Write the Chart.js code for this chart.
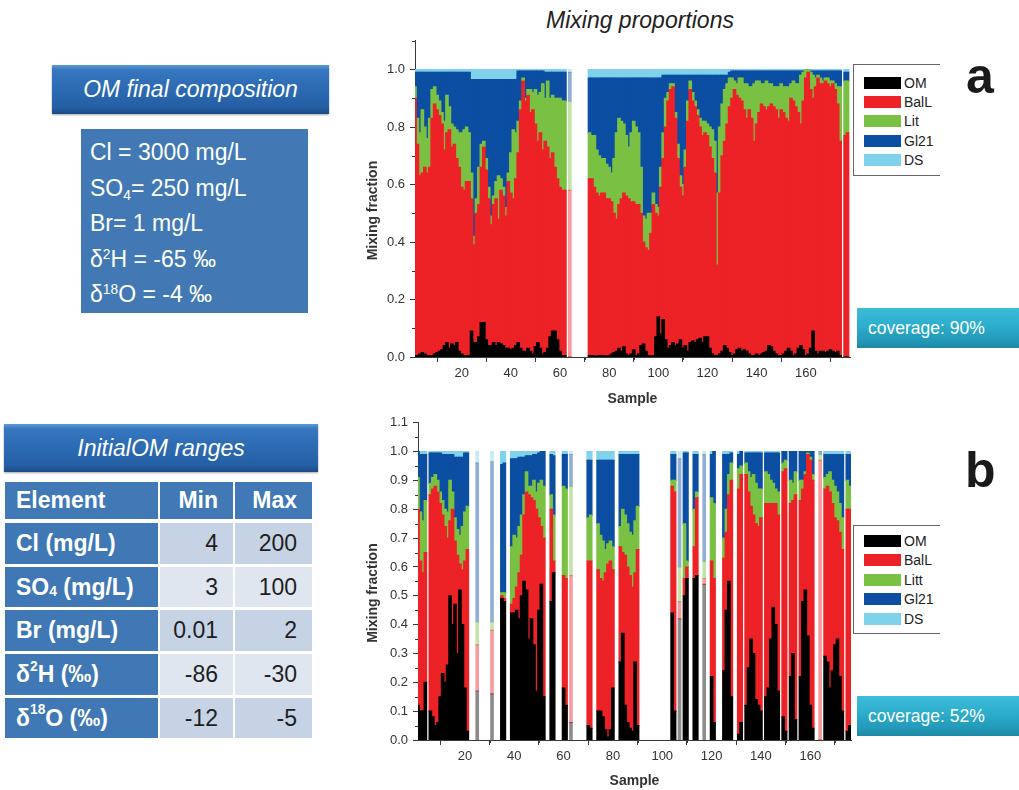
<!DOCTYPE html>
<html>
<head>
<meta charset="utf-8">
<title>Mixing proportions</title>
<script src="https://cdn.jsdelivr.net/npm/chart.js@4.4.0/dist/chart.umd.min.js"></script>
<style>
  html, body { margin: 0; padding: 0; background: #fff; }
  body { width: 1019px; height: 790px; position: relative; overflow: hidden;
         font-family: "Liberation Sans", Arial, sans-serif; }
  canvas { position: absolute; }
  .title { position: absolute; left: 546px; top: 7px; font-size: 23px; font-style: italic; color: #222; white-space: nowrap; }
  .hdr { position: absolute; color: #fff; font-style: italic; font-size: 23px;
         display: flex; align-items: center; justify-content: center; white-space: nowrap;
         background: linear-gradient(to bottom, #5f9ad4 0%, #3677bf 10%, #2c6ab2 50%, #255fa5 86%, #1b4b86 100%);
         box-shadow: 0 1px 2px rgba(0,0,0,0.35); }
  .comp { position: absolute; background: #4279b5; color: #fff; font-size: 23px;
          box-sizing: border-box; padding: 6px 0 0 9px; line-height: 35.5px; white-space: nowrap; }
  sub, sup { font-size: 60%; line-height: 0; position: relative; vertical-align: baseline; }
  sub { top: 0.35em; }
  sup { top: -0.55em; }
  .tbl { position: absolute; left: 5px; top: 482px; display: grid;
         grid-template-columns: 153px 73px 77px; column-gap: 2px;
         grid-template-rows: 38px 41px 40px 41px 41px 40px; row-gap: 3px; }
  .tbl > div { display: flex; align-items: center; font-size: 23px; white-space: nowrap; box-sizing: border-box; }
  .th { background: #4079b5; color: #fff; font-weight: bold; }
  .tbl .hrow { margin-bottom: 1px; }
  .l { padding-left: 11px; }
  .r { justify-content: flex-end; padding-right: 15px; }
  .rh { background: #3f78b4; color: #fff; font-weight: bold; padding-left: 11px; }
  .v { color: #1e1e1e; justify-content: flex-end; padding-right: 15px; }
  .c1 { background: #c6d3e5; }
  .c2 { background: #dfe6f0; }
  .legend { position: absolute; border: 1px solid #666; border-right: none; background: #fff;
            box-sizing: border-box; }
  .legend .row { position: absolute; left: 10px; height: 12px; display: flex; align-items: center; }
  .legend .sw { width: 37px; height: 12px; margin-right: 3px; }
  .legend .tx { font-size: 14px; color: #222; line-height: 12px; }
  .cov { position: absolute; left: 857px; width: 162px; height: 40px; color: #fff; font-size: 17.5px;
         display: flex; align-items: center; box-sizing: border-box; padding-left: 11px;
         background: linear-gradient(to bottom, #3cbcd9 0%, #2cadcc 45%, #2399b8 80%, #1d88a4 100%); }
  .tag { position: absolute; font-size: 50px; font-weight: bold; color: #1a1a1a; line-height: 50px; }
</style>
</head>
<body>

<div class="title">Mixing proportions</div>

<div class="hdr" style="left:52px;top:65px;width:277px;height:49px;">OM final composition</div>
<div class="comp" style="left:81px;top:129px;width:227px;height:184px;">
  <div>Cl = 3000 mg/L</div>
  <div>SO<sub>4</sub>= 250 mg/L</div>
  <div>Br= 1 mg/L</div>
  <div>δ<sup>2</sup>H = -65 ‰</div>
  <div>δ<sup>18</sup>O = -4 ‰</div>
</div>

<div class="hdr" style="left:4px;top:424px;width:314px;height:48px;">InitialOM ranges</div>
<div class="tbl">
  <div class="th l hrow">Element</div><div class="th r hrow">Min</div><div class="th r hrow">Max</div>
  <div class="rh">Cl (mg/L)</div><div class="v c1">4</div><div class="v c1">200</div>
  <div class="rh">SO<sub>4</sub>&nbsp;(mg/L)</div><div class="v c2">3</div><div class="v c2">100</div>
  <div class="rh">Br (mg/L)</div><div class="v c1">0.01</div><div class="v c1">2</div>
  <div class="rh">δ<sup>2</sup>H (‰)</div><div class="v c2">-86</div><div class="v c2">-30</div>
  <div class="rh">δ<sup>18</sup>O (‰)</div><div class="v c1">-12</div><div class="v c1">-5</div>
</div>

<canvas id="chartA" width="500" height="384" style="left:355px;top:28px;"></canvas>
<canvas id="chartB" width="500" height="384" style="left:355px;top:410px;"></canvas>

<div class="legend" id="legendA" style="left:853px;top:64px;width:87px;height:112px;"></div>
<div class="legend" id="legendB" style="left:853px;top:525px;width:87px;height:109px;"></div>

<div class="cov" style="top:308px;">coverage: 90%</div>
<div class="cov" style="top:696px;">coverage: 52%</div>

<div class="tag" style="left:966px;top:51px;">a</div>
<div class="tag" style="left:965px;top:445px;">b</div>

<script>
// ---- Panel a: mixing fractions per sample (null = sample not resolved) ----
const OM_A = [
  0.005, 0.005, 0.01, 0.015, 0.01, 0.005, 0.005, 0.005, 0.01, 0.015,
  0.02, 0.025, 0.04, 0.05, 0.03, 0.045, 0.04, 0.05, 0.02, 0.01,
  0.005, 0.005, 0.005, 0.09, 0.05, 0.05, 0.07, 0.12, 0.12, 0.06,
  0.04, 0.04, 0.05, 0.04, 0.05, 0.045, 0.04, 0.03, 0.03, 0.025,
  0.03, 0.04, 0.05, 0.03, 0.02, 0.02, 0.03, 0.02, 0.01, 0.035,
  0.05, 0.03, 0.01, 0.015, 0.03, 0.07, 0.09, 0.09, 0.06, 0.02,
  0.005, 0.005, null, 0.0, null, null, null, null, null, null,
  null, 0.005, 0.005, 0.003, 0.003, 0.005, 0.005, 0.003, 0.003, 0.005,
  0.01, 0.015, 0.02, 0.03, 0.02, 0.035, 0.01, 0.005, 0.01, 0.025,
  0.005, 0.01, 0.04, 0.045, 0.02, 0.005, 0.003, 0.005, 0.07, 0.14,
  0.08, 0.13, 0.06, 0.03, 0.04, 0.05, 0.04, 0.045, 0.06, 0.03,
  0.04, 0.02, 0.05, 0.055, 0.05, 0.06, 0.065, 0.05, 0.07, 0.07,
  0.03, 0.01, 0.005, 0.005, 0.01, 0.02, 0.04, 0.03, 0.015, 0.005,
  0.01, 0.025, 0.03, 0.02, 0.025, 0.02, 0.01, 0.005, 0.005, 0.01,
  0.005, 0.01, 0.015, 0.02, 0.04, 0.035, 0.02, 0.01, 0.005, 0.005,
  0.01, 0.02, 0.03, 0.02, 0.005, 0.01, 0.03, 0.04, 0.025, 0.005,
  0.01, 0.03, 0.09, 0.02, 0.01, 0.02, 0.02, 0.015, 0.02, 0.025,
  0.02, 0.015, 0.02, 0.005, null, 0.0, 0.0, null
];
const BALL_A = [
  0.895, 0.735, 0.62, 0.625, 0.65, 0.635, 0.655, 0.825, 0.87, 0.845,
  0.82, 0.785, 0.68, 0.73, 0.76, 0.685, 0.70, 0.64, 0.64, 0.58,
  0.575, 0.605, 0.605, 0.46, 0.34, 0.45, 0.46, 0.54, 0.61, 0.59,
  0.51, 0.42, 0.48, 0.51, 0.43, 0.535, 0.52, 0.46, 0.58, 0.545,
  0.52, 0.58, 0.66, 0.83, 0.94, 0.87, 0.88, 0.83, 0.85, 0.775,
  0.70, 0.75, 0.71, 0.735, 0.70, 0.62, 0.62, 0.57, 0.56, 0.57,
  0.575, 0.575, null, 0.58, null, null, null, null, null, null,
  null, 0.615, 0.615, 0.587, 0.567, 0.555, 0.565, 0.567, 0.547, 0.545,
  0.53, 0.485, 0.46, 0.50, 0.53, 0.535, 0.55, 0.545, 0.53, 0.515,
  0.525, 0.52, 0.46, 0.355, 0.36, 0.365, 0.427, 0.525, 0.43, 0.35,
  0.51, 0.56, 0.74, 0.86, 0.89, 0.89, 0.79, 0.645, 0.53, 0.53,
  0.62, 0.80, 0.88, 0.835, 0.82, 0.78, 0.735, 0.72, 0.71, 0.70,
  0.70, 0.68, 0.635, 0.315, 0.56, 0.68, 0.71, 0.78, 0.855, 0.895,
  0.92, 0.885, 0.87, 0.87, 0.835, 0.81, 0.85, 0.825, 0.745, 0.80,
  0.845, 0.87, 0.855, 0.84, 0.83, 0.845, 0.85, 0.85, 0.825, 0.855,
  0.84, 0.81, 0.79, 0.88, 0.885, 0.86, 0.82, 0.77, 0.865, 0.965,
  0.98, 0.90, 0.81, 0.92, 0.96, 0.93, 0.93, 0.945, 0.93, 0.915,
  0.93, 0.915, 0.86, 0.745, null, 0.77, 0.78, null
];
const LIT_A = [
  0.04, 0.09, 0.15, 0.22, 0.14, 0.12, 0.17, 0.10, 0.06, 0.05,
  0.05, 0.04, 0.10, 0.13, 0.08, 0.08, 0.06, 0.10, 0.12, 0.19,
  0.21, 0.19, 0.17, 0.09, 0.03, 0.05, 0.13, 0.08, 0.02, 0.04,
  0.04, 0.03, 0.03, 0.06, 0.15, 0.04, 0.03, 0.03, 0.03, 0.14,
  0.24, 0.16, 0.11, 0.03, 0.01, 0.01, 0.02, 0.08, 0.06, 0.12,
  0.16, 0.14, 0.23, 0.15, 0.23, 0.21, 0.20, 0.24, 0.28, 0.31,
  0.31, 0.31, null, 0.31, null, null, null, null, null, null,
  null, 0.16, 0.15, 0.18, 0.15, 0.14, 0.12, 0.12, 0.12, 0.11,
  0.10, 0.19, 0.30, 0.30, 0.27, 0.24, 0.21, 0.18, 0.24, 0.28,
  0.27, 0.25, 0.16, 0.09, 0.10, 0.13, 0.07, 0.04, 0.03, 0.03,
  0.07, 0.09, 0.10, 0.03, 0.02, 0.01, 0.02, 0.05, 0.04, 0.04,
  0.06, 0.07, 0.03, 0.03, 0.02, 0.02, 0.03, 0.05, 0.04, 0.04,
  0.07, 0.10, 0.11, 0.25, 0.23, 0.18, 0.18, 0.14, 0.10, 0.07,
  0.03, 0.04, 0.07, 0.08, 0.09, 0.12, 0.08, 0.11, 0.20, 0.15,
  0.11, 0.07, 0.08, 0.10, 0.08, 0.07, 0.07, 0.08, 0.11, 0.09,
  0.09, 0.11, 0.12, 0.05, 0.07, 0.08, 0.10, 0.17, 0.10, 0.03,
  0.01, 0.06, 0.08, 0.03, 0.01, 0.02, 0.01, 0.01, 0.02, 0.02,
  0.01, 0.02, 0.06, 0.19, null, 0.19, 0.18, null
];
const GL21_A = [
  0.05, 0.16, 0.21, 0.13, 0.19, 0.23, 0.16, 0.06, 0.05, 0.08,
  0.10, 0.14, 0.17, 0.08, 0.12, 0.18, 0.19, 0.20, 0.21, 0.21,
  0.20, 0.19, 0.21, 0.325, 0.545, 0.415, 0.305, 0.225, 0.215, 0.275,
  0.375, 0.475, 0.405, 0.355, 0.335, 0.345, 0.375, 0.445, 0.325, 0.255,
  0.175, 0.185, 0.175, 0.105, 0.025, 0.095, 0.065, 0.065, 0.075, 0.065,
  0.085, 0.075, 0.045, 0.09, 0.03, 0.09, 0.08, 0.09, 0.09, 0.09,
  0.10, 0.10, null, 0.10, null, null, null, null, null, null,
  null, 0.19, 0.20, 0.20, 0.25, 0.27, 0.28, 0.28, 0.30, 0.31,
  0.33, 0.28, 0.19, 0.14, 0.15, 0.16, 0.20, 0.24, 0.19, 0.15,
  0.17, 0.19, 0.31, 0.48, 0.49, 0.47, 0.47, 0.40, 0.44, 0.45,
  0.31, 0.20, 0.08, 0.06, 0.03, 0.03, 0.13, 0.24, 0.35, 0.38,
  0.26, 0.09, 0.02, 0.06, 0.09, 0.12, 0.15, 0.16, 0.16, 0.17,
  0.18, 0.19, 0.23, 0.41, 0.18, 0.10, 0.05, 0.03, 0.02, 0.025,
  0.035, 0.045, 0.025, 0.025, 0.045, 0.045, 0.055, 0.055, 0.045, 0.035,
  0.035, 0.045, 0.045, 0.035, 0.045, 0.045, 0.055, 0.055, 0.055, 0.045,
  0.055, 0.055, 0.055, 0.045, 0.035, 0.045, 0.045, 0.015, 0.005, 0.0,
  0.0, 0.005, 0.015, 0.025, 0.015, 0.025, 0.035, 0.025, 0.025, 0.035,
  0.035, 0.045, 0.055, 0.055, null, 0.03, 0.03, null
];
const DS_A = [
  0.01, 0.01, 0.01, 0.01, 0.01, 0.01, 0.01, 0.01, 0.01, 0.01,
  0.01, 0.01, 0.01, 0.01, 0.01, 0.01, 0.01, 0.01, 0.01, 0.01,
  0.01, 0.01, 0.01, 0.035, 0.035, 0.035, 0.035, 0.035, 0.035, 0.035,
  0.035, 0.035, 0.035, 0.035, 0.035, 0.035, 0.035, 0.035, 0.035, 0.035,
  0.035, 0.035, 0.005, 0.005, 0.005, 0.005, 0.005, 0.005, 0.005, 0.005,
  0.005, 0.005, 0.005, 0.01, 0.01, 0.01, 0.01, 0.01, 0.01, 0.01,
  0.01, 0.01, null, 0.01, null, null, null, null, null, null,
  null, 0.03, 0.03, 0.03, 0.03, 0.03, 0.03, 0.03, 0.03, 0.03,
  0.03, 0.03, 0.03, 0.03, 0.03, 0.03, 0.03, 0.03, 0.03, 0.03,
  0.03, 0.03, 0.03, 0.03, 0.03, 0.03, 0.03, 0.03, 0.03, 0.03,
  0.03, 0.02, 0.02, 0.02, 0.02, 0.02, 0.02, 0.02, 0.02, 0.02,
  0.02, 0.02, 0.02, 0.02, 0.02, 0.02, 0.02, 0.02, 0.02, 0.02,
  0.02, 0.02, 0.02, 0.02, 0.02, 0.02, 0.02, 0.02, 0.01, 0.005,
  0.005, 0.005, 0.005, 0.005, 0.005, 0.005, 0.005, 0.005, 0.005, 0.005,
  0.005, 0.005, 0.005, 0.005, 0.005, 0.005, 0.005, 0.005, 0.005, 0.005,
  0.005, 0.005, 0.005, 0.005, 0.005, 0.005, 0.005, 0.005, 0.005, 0.0,
  0.0, 0.005, 0.005, 0.005, 0.005, 0.005, 0.005, 0.005, 0.005, 0.005,
  0.005, 0.005, 0.005, 0.005, null, 0.01, 0.01, null
];

// ---- Panel b: mixing fractions per sample (null = sample not resolved) ----
const OM_B = [
  0.12, 0.10, 0.10, 0.20, null, 0.10, 0.08, 0.05, 0.06, 0.15,
  0.23, 0.20, 0.26, 0.50, 0.40, 0.47, 0.30, 0.52, 0.40, 0.18,
  0.03, null, null, null, 0.17, null, null, null, null, null,
  0.16, null, null, null, 0.49, 0.48, null, null, 0.44, 0.44,
  0.45, 0.42, 0.50, 0.55, 0.52, 0.35, 0.42, 0.33, 0.17, 0.45,
  0.54, 0.15, null, null, 0.48, 0.58, null, null, null, 0.18,
  0.12, null, 0.06, null, null, null, null, null, null, 0.05,
  0.04, null, null, 0.10, 0.10, 0.08, 0.035, 0.01, 0.035, 0.18,
  null, null, 0.27, 0.37, 0.12, 0.06, 0.04, 0.03, 0.27, 0.05,
  null, null, null, null, null, null, null, null, null, null,
  null, null, null, 0.44, 0.10, null, 0.42, null, 0.50, 0.56,
  null, null, 0.56, 0.57, null, null, 0.54, null, null, 0.22,
  0.06, null, null, null, 0.24, 0.45, 0.55, 0.15, null, null,
  0.02, 0.06, null, 0.12, 0.25, 0.35, 0.30, 0.14, 0.12, 0.10,
  null, 0.15, 0.18, 0.35, 0.46, 0.40, 0.17, null, 0.08, 0.03,
  null, 0.22, 0.30, 0.07, null, 0.22, 0.48, 0.52, 0.36, 0.12,
  0.04, null, null, 0.0, null, 0.29, 0.27, 0.18, 0.24, 0.33,
  0.35, 0.22, 0.10, null, 0.03, 0.05
];
const BALL_B = [
  0.68, 0.52, 0.48, 0.45, null, 0.75, 0.79, 0.83, 0.80, 0.67,
  0.55, 0.54, 0.44, 0.26, 0.40, 0.22, 0.34, 0.09, 0.19, 0.44,
  0.63, null, null, null, 0.16, null, null, null, null, null,
  0.22, null, null, null, 0.01, 0.01, null, null, 0.03, 0.05,
  0.08, 0.16, 0.14, 0.23, 0.34, 0.50, 0.42, 0.50, 0.63, 0.32,
  0.20, 0.55, null, null, 0.32, 0.04, null, null, null, 0.39,
  0.44, null, 0.51, null, null, null, null, null, null, 0.57,
  0.58, null, null, 0.49, 0.46, 0.47, 0.545, 0.60, 0.585, 0.41,
  null, null, 0.40, 0.28, 0.52, 0.54, 0.53, 0.50, 0.31, 0.61,
  null, null, null, null, null, null, null, null, null, null,
  null, null, null, 0.44, 0.76, null, 0.06, null, 0.06, 0.04,
  null, null, 0.11, 0.27, null, null, 0.02, null, null, 0.40,
  0.50, null, null, null, 0.39, 0.27, 0.30, 0.75, null, null,
  0.85, 0.86, null, 0.80, 0.61, 0.46, 0.48, 0.61, 0.62, 0.67,
  null, 0.67, 0.64, 0.47, 0.36, 0.42, 0.61, null, 0.85, 0.91,
  null, 0.60, 0.53, 0.78, null, 0.61, 0.39, 0.40, 0.63, 0.85,
  0.86, null, null, 0.97, null, 0.58, 0.61, 0.68, 0.58, 0.44,
  0.41, 0.50, 0.56, null, 0.77, 0.75
];
const LITT_B = [
  0.11, 0.17, 0.18, 0.18, null, 0.04, 0.04, 0.04, 0.04, 0.04,
  0.05, 0.06, 0.09, 0.14, 0.06, 0.08, 0.09, 0.10, 0.15, 0.17,
  0.15, null, null, null, 0.08, null, null, null, null, null,
  0.03, null, null, null, 0.01, 0.02, null, null, 0.20, 0.22,
  0.17, 0.16, 0.14, 0.07, 0.07, 0.03, 0.04, 0.07, 0.06, 0.12,
  0.16, 0.18, null, null, 0.05, 0.16, null, null, null, 0.31,
  0.31, null, 0.31, null, null, null, null, null, null, 0.15,
  0.16, null, null, 0.16, 0.15, 0.14, 0.08, 0.07, 0.07, 0.08,
  null, null, 0.07, 0.15, 0.14, 0.15, 0.15, 0.18, 0.18, 0.15,
  null, null, null, null, null, null, null, null, null, null,
  null, null, null, 0.02, 0.04, null, 0.12, null, 0.19, 0.02,
  null, null, 0.13, 0.02, null, null, 0.06, null, null, 0.22,
  0.26, null, null, null, 0.07, 0.08, 0.07, 0.06, null, null,
  0.07, 0.03, null, 0.04, 0.07, 0.10, 0.14, 0.14, 0.13, 0.10,
  null, 0.11, 0.10, 0.08, 0.07, 0.05, 0.08, null, 0.03, 0.03,
  null, 0.08, 0.06, 0.08, null, 0.07, 0.03, 0.01, 0.005, 0.01,
  0.02, null, null, 0.02, null, 0.04, 0.04, 0.07, 0.08, 0.11,
  0.10, 0.10, 0.11, null, 0.10, 0.08
];
const GL21_B = [
  0.09, 0.20, 0.23, 0.16, null, 0.105, 0.085, 0.075, 0.095, 0.135,
  0.16, 0.19, 0.20, 0.09, 0.13, 0.21, 0.25, 0.27, 0.24, 0.205,
  0.185, null, null, null, 0.55, null, null, null, null, null,
  0.555, null, null, null, 0.445, 0.45, null, null, 0.305, 0.265,
  0.275, 0.24, 0.20, 0.13, 0.055, 0.105, 0.105, 0.09, 0.13, 0.105,
  0.10, 0.12, null, null, 0.14, 0.205, null, null, null, 0.11,
  0.12, null, 0.11, null, null, null, null, null, null, 0.20,
  0.19, null, null, 0.22, 0.26, 0.28, 0.31, 0.29, 0.28, 0.30,
  null, null, 0.25, 0.19, 0.21, 0.24, 0.27, 0.28, 0.23, 0.18,
  null, null, null, null, null, null, null, null, null, null,
  null, null, null, 0.09, 0.09, null, 0.375, null, 0.245, 0.375,
  null, null, 0.19, 0.13, null, null, 0.37, null, null, 0.15,
  0.18, null, null, null, 0.29, 0.19, 0.07, 0.035, null, null,
  0.05, 0.05, null, 0.035, 0.065, 0.085, 0.075, 0.105, 0.125, 0.125,
  null, 0.065, 0.075, 0.095, 0.105, 0.125, 0.135, null, 0.04, 0.03,
  null, 0.10, 0.11, 0.07, null, 0.10, 0.10, 0.07, 0.005, 0.02,
  0.08, null, null, 0.01, null, 0.08, 0.07, 0.06, 0.09, 0.11,
  0.13, 0.17, 0.22, null, 0.09, 0.11
];
const DS_B = [
  0.0, 0.01, 0.01, 0.01, null, 0.005, 0.005, 0.005, 0.005, 0.005,
  0.01, 0.01, 0.01, 0.01, 0.01, 0.02, 0.02, 0.02, 0.02, 0.005,
  0.005, null, null, null, 0.04, null, null, null, null, null,
  0.035, null, null, null, 0.045, 0.04, null, null, 0.025, 0.025,
  0.025, 0.02, 0.02, 0.02, 0.015, 0.015, 0.015, 0.01, 0.01, 0.005,
  0.0, 0.0, null, null, 0.01, 0.015, null, null, null, 0.01,
  0.01, null, 0.01, null, null, null, null, null, null, 0.03,
  0.03, null, null, 0.03, 0.03, 0.03, 0.03, 0.03, 0.03, 0.03,
  null, null, 0.01, 0.01, 0.01, 0.01, 0.01, 0.01, 0.01, 0.01,
  null, null, null, null, null, null, null, null, null, null,
  null, null, null, 0.01, 0.01, null, 0.025, null, 0.005, 0.005,
  null, null, 0.01, 0.01, null, null, 0.01, null, null, 0.01,
  0.0, null, null, null, 0.01, 0.01, 0.01, 0.005, null, null,
  0.01, 0.0, null, 0.005, 0.005, 0.005, 0.005, 0.005, 0.005, 0.005,
  null, 0.005, 0.005, 0.005, 0.005, 0.005, 0.005, null, 0.0, 0.0,
  null, 0.0, 0.0, 0.0, null, 0.0, 0.0, 0.0, 0.0, 0.0,
  0.0, null, null, 0.0, null, 0.01, 0.01, 0.01, 0.01, 0.01,
  0.01, 0.01, 0.01, null, 0.01, 0.01
];

// Axis tick values
const X_TICKS = [20, 40, 60, 80, 100, 120, 140, 160];
const Y_TICKS_A = [0, 0.2, 0.4, 0.6, 0.8, 1.0];
const Y_TICKS_B = [0, 0.1, 0.2, 0.3, 0.4, 0.5, 0.6, 0.7, 0.8, 0.9, 1.0, 1.1];

// Sample numbers on the x axis
const SAMPLES_A = Array.from({ length: OM_A.length }, (_, i) => i + 1);
const SAMPLES_B = Array.from({ length: OM_B.length }, (_, i) => i + 1);

const FONT = '"Liberation Sans", Arial, sans-serif';
const AXIS = '#3a3a3a';
const COLORS = {
  OM:   [0, 0, 0],
  BalL: [236, 34, 39],
  Lit:  [122, 193, 67],
  Gl21: [11, 78, 162],
  DS:   [128, 209, 234]
};

Chart.defaults.font.family = FONT;

// A sample standing alone between unresolved neighbours is drawn as a pale strip
function fillFor(rgb) {
  const solid = `rgb(${rgb.join(',')})`;
  const pale = `rgba(${rgb.join(',')},0.45)`;
  return ctx => {
    const d = ctx.dataset.data, i = ctx.dataIndex;
    const lone = d[i] != null && d[i - 1] == null && d[i + 1] == null;
    return lone ? pale : solid;
  };
}

// Small unlabeled ticks between the labelled ones
const minorTicks = {
  id: 'minorTicks',
  afterDraw(chart, _args, opts) {
    const { ctx, chartArea } = chart;
    const x = chart.scales.x, y = chart.scales.y;
    ctx.save();
    ctx.strokeStyle = AXIS;
    ctx.lineWidth = 1;
    ctx.beginPath();
    for (let k = 1; k * opts.x <= x.max; k += 2) {
      const px = Math.round(x.getPixelForValue(k * opts.x)) + 0.5;
      ctx.moveTo(px, chartArea.bottom);
      ctx.lineTo(px, chartArea.bottom + 3);
    }
    const n = Math.round(y.max / opts.y);
    for (let k = 1; k <= n; k += 2) {
      const py = Math.round(y.getPixelForValue(k * opts.y)) + 0.5;
      ctx.moveTo(chartArea.left, py);
      ctx.lineTo(chartArea.left - 3, py);
    }
    ctx.stroke();
    ctx.restore();
  }
};

function buildChart(id, labels, series, opt) {
  return new Chart(document.getElementById(id), {
    type: 'bar',
    data: {
      labels: labels,
      datasets: series.map(s => ({
        label: s.name,
        data: s.data,
        backgroundColor: fillFor(COLORS[s.color])
      }))
    },
    options: {
      responsive: false,
      animation: false,
      devicePixelRatio: 1,
      layout: { padding: { left: 6, top: opt.padTop, right: opt.padRight, bottom: 0 } },
      datasets: { bar: { barPercentage: 1, categoryPercentage: 1, borderWidth: 0, inflateAmount: 0.6 } },
      plugins: {
        legend: { display: false },
        tooltip: { enabled: false },
        minorTicks: { x: 10, y: opt.yMinor }
      },
      scales: {
        x: {
          type: 'linear',
          stacked: true,
          min: 1,
          max: opt.xMax,
          offset: false,
          afterFit: s => { s.height = opt.xHeight; },
          afterBuildTicks: s => { s.ticks = X_TICKS.map(v => ({ value: v })); },
          grid: { drawOnChartArea: false, drawTicks: true, tickLength: 5, color: AXIS, lineWidth: 1 },
          border: { display: true, color: AXIS, width: 1 },
          ticks: { font: { size: 13 }, color: '#333', padding: 4, maxRotation: 0, autoSkip: false },
          title: { display: true, text: 'Sample', font: { size: 14, weight: 'bold' }, color: '#333',
                   padding: { top: 0, bottom: 4 } }
        },
        y: {
          stacked: true,
          min: 0,
          max: 1.1,
          afterFit: s => { s.width = opt.yWidth; },
          afterBuildTicks: s => { s.ticks = opt.yTicks.map(v => ({ value: v })); },
          grid: { drawOnChartArea: false, drawTicks: true, tickLength: 5, color: AXIS, lineWidth: 1 },
          border: { display: true, color: AXIS, width: 1 },
          ticks: { font: { size: 13 }, color: '#333', padding: 5, callback: v => Number(v).toFixed(1) },
          // trailing spaces nudge the rotated title a little towards the x axis
          title: { display: true, text: 'Mixing fraction      ', font: { size: 14, weight: 'bold' }, color: '#333',
                   padding: { top: 4, bottom: 0 } }
        }
      }
    },
    plugins: [minorTicks]
  });
}

const SERIES_A = [
  { name: 'OM',   color: 'OM',   data: OM_A },
  { name: 'BalL', color: 'BalL', data: BALL_A },
  { name: 'Lit',  color: 'Lit',  data: LIT_A },
  { name: 'Gl21', color: 'Gl21', data: GL21_A },
  { name: 'DS',   color: 'DS',   data: DS_A }
];
const SERIES_B = [
  { name: 'OM',   color: 'OM',   data: OM_B },
  { name: 'BalL', color: 'BalL', data: BALL_B },
  { name: 'Litt', color: 'Lit',  data: LITT_B },
  { name: 'Gl21', color: 'Gl21', data: GL21_B },
  { name: 'DS',   color: 'DS',   data: DS_B }
];

const chartA = buildChart('chartA', SAMPLES_A, SERIES_A,
  { padTop: 8, padRight: 5, xMax: 178, xHeight: 55, yWidth: 54, yTicks: Y_TICKS_A, yMinor: 0.1 });
const chartB = buildChart('chartB', SAMPLES_B, SERIES_B,
  { padTop: 12, padRight: 4, xMax: 176.5, xHeight: 54, yWidth: 57, yTicks: Y_TICKS_B, yMinor: 0.05 });

// Boxed legends listing the series of each chart
function buildLegend(elId, series, firstRow) {
  const box = document.getElementById(elId);
  series.forEach((s, i) => {
    const row = document.createElement('div');
    row.className = 'row';
    row.style.top = (firstRow + i * 19.4 - 6) + 'px';
    const sw = document.createElement('div');
    sw.className = 'sw';
    sw.style.background = `rgb(${COLORS[s.color].join(',')})`;
    const tx = document.createElement('div');
    tx.className = 'tx';
    tx.textContent = s.name;
    row.appendChild(sw);
    row.appendChild(tx);
    box.appendChild(row);
  });
}
buildLegend('legendA', SERIES_A, 17.5);
buildLegend('legendB', SERIES_B, 15);
</script>
</body>
</html>
